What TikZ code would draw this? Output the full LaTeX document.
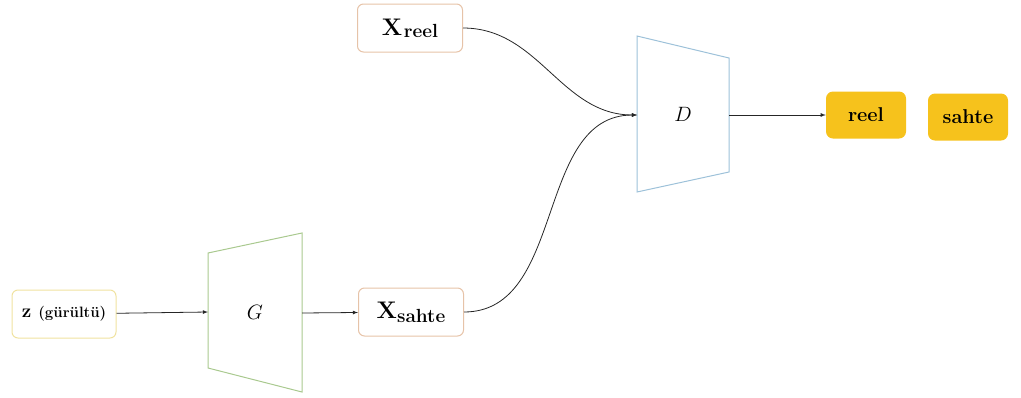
\documentclass[tikz,border=0pt]{standalone}
\usetikzlibrary{positioning}
\definecolor{zline}{HTML}{F0E2A0}
\definecolor{xline}{HTML}{E6C3A8}
\definecolor{gline}{HTML}{A9C98F}
\definecolor{dline}{HTML}{9DC1D9}
\definecolor{gold}{HTML}{F6C21C}
\tikzset{
    databox/.style={draw=xline, rounded corners=6pt, minimum width=105pt, minimum height=48pt, line width=1pt, inner sep=1pt},
    outbox/.style={fill=gold, rounded corners=7pt, minimum width=80pt, minimum height=47pt, inner sep=1pt, font=\fontsize{20}{22}\selectfont\bfseries},
    link/.style={-latex, line width=0.8pt, black!85},
}
\begin{document}
\begin{tikzpicture}[x=1pt, y=-1pt]
    \useasboundingbox (0,0) rectangle (1021,397);

    % inputs
    \node[databox, draw=zline, minimum width=104pt] (noise) at (64,314)
        {\bfseries\fontsize{19}{21}\selectfont z {\fontsize{15}{17}\selectfont(gürültü)}};
    \node[databox] (xreal) at (410,28)
        {{\fontsize{24}{26}\selectfont\bfseries X}\,\raisebox{-0.5ex}{\fontsize{19}{21}\selectfont\bfseries reel}};
    \node[databox] (xfake) at (411,312)
        {{\fontsize{24}{26}\selectfont\bfseries X}\raisebox{-0.9ex}{\fontsize{19}{21}\selectfont\bfseries sahte}};

    % generator and discriminator
    \draw[gline, line width=1pt] (208,253) -- (302,233) -- (302,392) -- (208,368) -- cycle;
    \node (gen) at (255,312) {\fontsize{21}{23}\selectfont $G$};
    \coordinate (genin) at (208,312);
    \coordinate (genout) at (302,313);

    \draw[dline, line width=1pt] (637,36) -- (729,58) -- (729,172) -- (637,192) -- cycle;
    \node (disc) at (683,114) {\fontsize{21}{23}\selectfont $D$};
    \coordinate (discin) at (637,115);
    \coordinate (discout) at (729,115);

    % outputs
    \node[outbox] (real) at (866,115) {reel};
    \node[outbox] (fake) at (968,117) {sahte};

    \draw[link] (noise) -- (genin);
    \draw[link] (genout) -- (xfake);
    \draw[link] (xreal.east) to[out=0, in=180] (discin);
    \draw[link] (xfake.east) to[out=0, in=180] (discin);
    \draw[link] (discout) -- (real);
\end{tikzpicture}
\end{document}
